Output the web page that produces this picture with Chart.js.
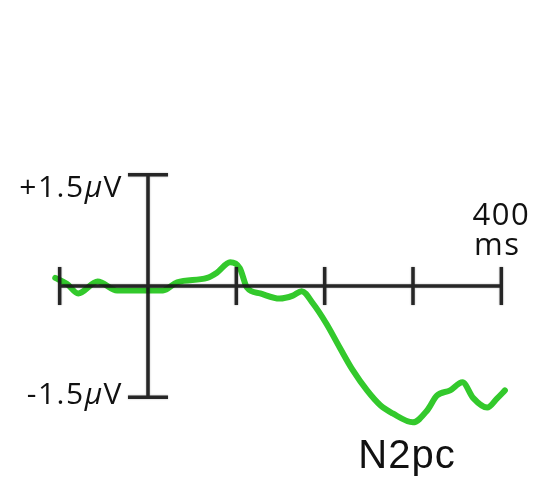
<!DOCTYPE html>
<html>
<head>
<meta charset="utf-8">
<script src="https://cdn.jsdelivr.net/npm/chart.js@4"></script>
<style>
  body { margin: 0; background: #fff; }
  #wrap { width: 535px; height: 479px; }
</style>
</head>
<body>
<div id="wrap"><canvas id="myChart" width="535" height="479"></canvas></div>
<script>
// waveform (ms, microvolts)
const times = [-105, -92, -79, -57, -35, -1, 17, 33, 67, 78, 93, 104, 112, 127, 149, 164, 174, 187, 202, 217, 232, 248, 263, 277, 300, 316, 327, 342, 356, 368, 384, 395, 404];
const amplitudes = [0.11, 0.03, -0.10, 0.06, -0.06, -0.06, -0.06, 0.05, 0.11, 0.18, 0.32, 0.24, -0.02, -0.10, -0.17, -0.13, -0.07, -0.24, -0.51, -0.83, -1.14, -1.41, -1.61, -1.72, -1.84, -1.68, -1.48, -1.41, -1.30, -1.51, -1.64, -1.52, -1.41];

// axis marks
const tickTimes = [-100, 0, 100, 200, 300, 400];
const voltLimits = [1.5, -1.5];
const voltLabels = ["+1.5", "-1.5"];
const timeLabel = ["400", "ms"];
const componentLabel = "N2pc";
const componentTime = 300;

const AXIS = "rgba(25,25,25,0.92)";

// axes drawn on top of the trace, crossing at zero
const erpAxes = {
    id: "erpAxes",
    afterDatasetsDraw(chart) {
        const ctx = chart.ctx;
        const x = chart.scales.x;
        const y = chart.scales.y;
        const x0 = x.getPixelForValue(0);
        const y0 = y.getPixelForValue(0);
        ctx.save();
        ctx.strokeStyle = AXIS;
        ctx.lineWidth = 3.5;
        ctx.shadowColor = "rgba(0,0,0,0.35)";
        ctx.shadowBlur = 2;
        ctx.beginPath();
        // time axis
        ctx.moveTo(x.getPixelForValue(tickTimes[0]), y0);
        ctx.lineTo(x.getPixelForValue(tickTimes[tickTimes.length - 1]), y0);
        // time ticks
        tickTimes.forEach((t) => {
            const px = x.getPixelForValue(t);
            ctx.moveTo(px, y0 - 19);
            ctx.lineTo(px, y0 + 19);
        });
        // voltage axis with caps
        const yTop = y.getPixelForValue(voltLimits[0]);
        const yBot = y.getPixelForValue(voltLimits[1]);
        ctx.moveTo(x0, yTop);
        ctx.lineTo(x0, yBot);
        ctx.moveTo(x0 - 20, yTop);
        ctx.lineTo(x0 + 20, yTop);
        ctx.moveTo(x0 - 20, yBot);
        ctx.lineTo(x0 + 20, yBot);
        ctx.stroke();
        ctx.restore();
    },
    afterDraw(chart) {
        const ctx = chart.ctx;
        const x = chart.scales.x;
        const y = chart.scales.y;
        const x0 = x.getPixelForValue(0);
        ctx.save();
        ctx.fillStyle = "#111";
        ctx.textBaseline = "alphabetic";
        ctx.letterSpacing = "1.5px";

        // +1.5µV / -1.5µV, µ in italic
        const up = "30px 'Open Sans'";
        const it = "italic 30px 'Open Sans'";
        voltLimits.forEach((v, i) => {
            const py = y.getPixelForValue(v);
            const base = i === 0 ? py + 22 : py + 7;
            let right = x0 - 25;
            ctx.textAlign = "right";
            ctx.font = up;
            ctx.fillText("V", right, base);
            right -= ctx.measureText("V").width;
            ctx.font = it;
            ctx.fillText("\u03bc", right, base);
            right -= ctx.measureText("\u03bc").width;
            ctx.font = up;
            ctx.fillText(voltLabels[i], right, base);
        });

        // 400 ms
        const xEnd = x.getPixelForValue(tickTimes[tickTimes.length - 1]);
        const y0 = y.getPixelForValue(0);
        ctx.textAlign = "center";
        ctx.font = "31px 'Open Sans'";
        ctx.fillText(timeLabel[0], xEnd, y0 - 61);
        ctx.fillText(timeLabel[1], xEnd - 4, y0 - 31);

        // component name
        ctx.letterSpacing = "1px";
        ctx.font = "40px 'Liberation Sans'";
        ctx.fillText(componentLabel, x.getPixelForValue(componentTime) - 6, 468);
        ctx.restore();
    },
};

new Chart(document.getElementById("myChart"), {
    type: "line",
    data: {
        datasets: [
            {
                data: times.map((t, i) => ({ x: t, y: amplitudes[i] })),
                borderColor: "#33c92c",
                borderWidth: 6,
                borderCapStyle: "round",
                borderJoinStyle: "round",
                pointRadius: 0,
                cubicInterpolationMode: "monotone",
                fill: false,
            },
        ],
    },
    options: {
        responsive: false,
        animation: false,
        layout: { padding: { left: 42, right: 16, top: 123, bottom: 30 } },
        plugins: { legend: { display: false }, tooltip: { enabled: false } },
        scales: {
            x: { type: "linear", min: -120, max: 420, display: false },
            y: { min: -2.2, max: 2.2, display: false },
        },
    },
    plugins: [erpAxes],
});
</script>
</body>
</html>
